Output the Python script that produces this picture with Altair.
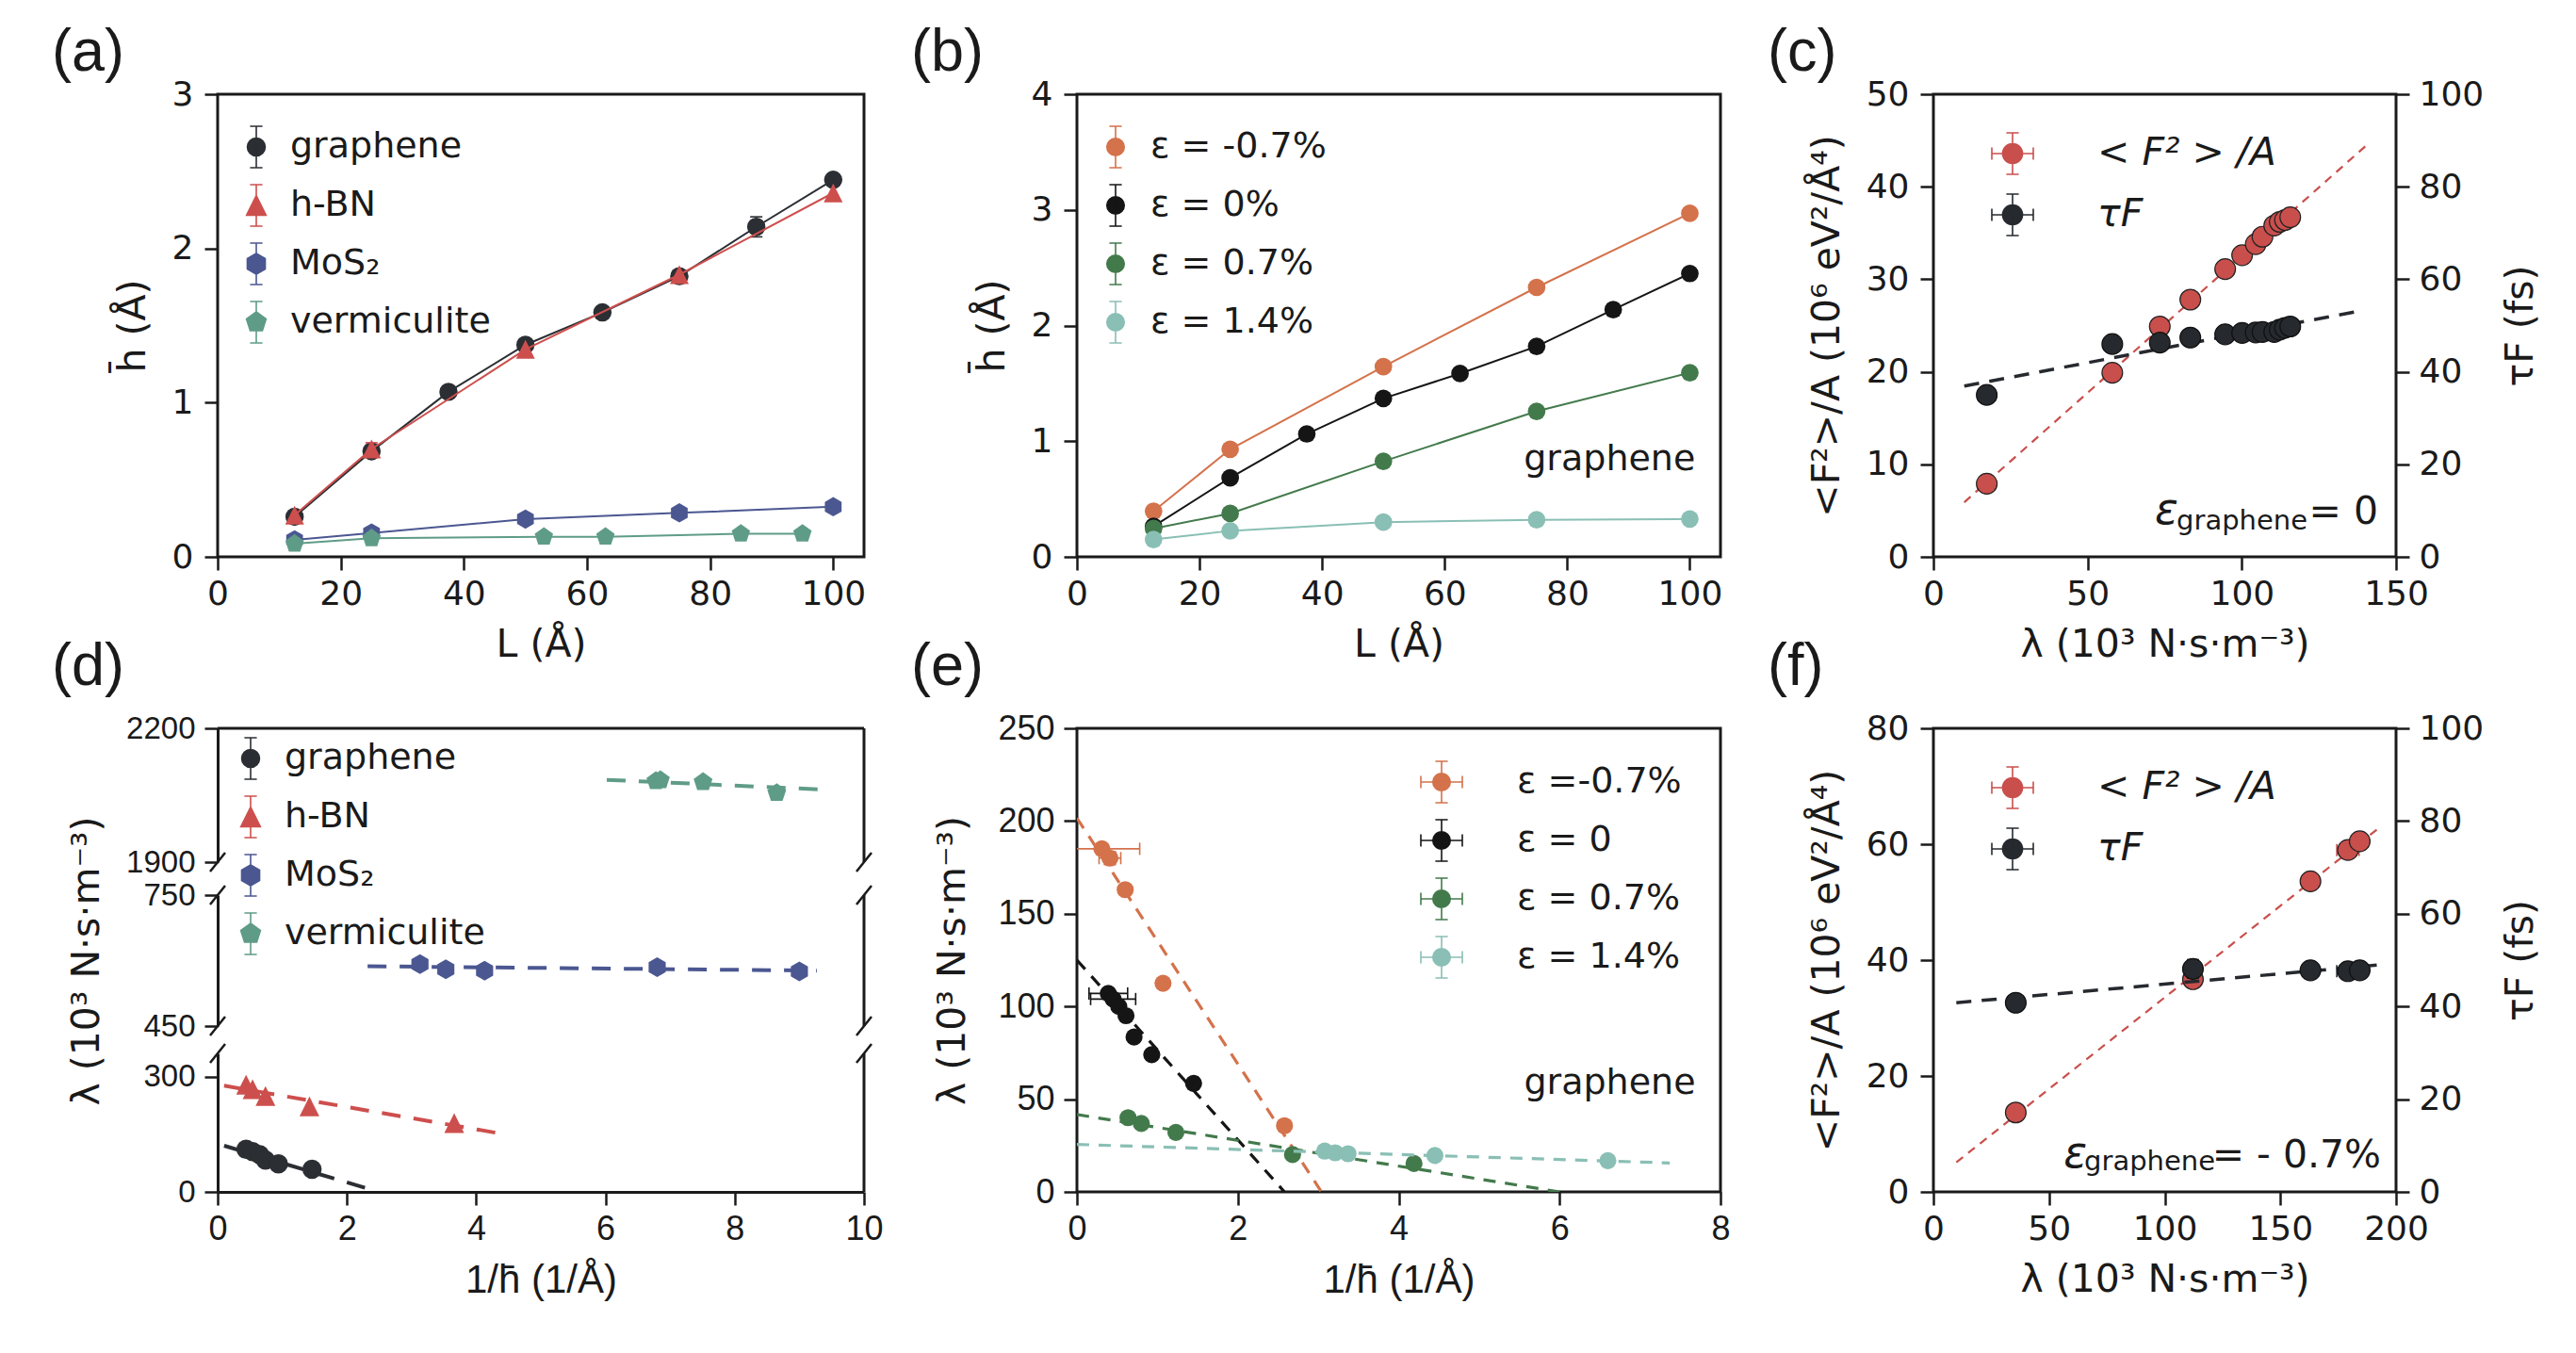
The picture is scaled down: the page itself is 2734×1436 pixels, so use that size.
import altair as alt
import pandas as pd

FONT = "DejaVu Sans"
ARIAL = "Liberation Sans"
INK = "#1a1a1a"

# ---------------- tick values ----------------
A_XT = [0, 20, 40, 60, 80, 100]
A_YT = [0, 1, 2, 3]
B_YT = [0, 1, 2, 3, 4]
C_XT = [0, 50, 100, 150]
C_YT = [0, 10, 20, 30, 40, 50]
C_YT_R = [0, 20, 40, 60, 80, 100]
D_XT = [0, 2, 4, 6, 8, 10]
D_YT_TOP = [1900, 2200]
D_YT_MID = [450, 750]
D_YT_BOT = [0, 300]
E_XT = [0, 2, 4, 6, 8]
E_YT = [0, 50, 100, 150, 200, 250]
F_XT = [0, 50, 100, 150, 200]
F_YT = [0, 20, 40, 60, 80]
F_YT_R = [0, 20, 40, 60, 80, 100]

# ---------------- (a) h vs L for materials ----------------
A_NAMES = ["graphene", "h-BN", "MoS₂", "vermiculite"]
A_COLORS = ["#2b2e33", "#cd4f4d", "#4b5791", "#5f9c88"]
A_L_GR = [12.5, 25, 37.5, 50, 62.5, 75, 87.5, 100]
A_H_GR = [0.26, 0.685, 1.07, 1.375, 1.585, 1.82, 2.14, 2.445]
A_E_GR = [0.0, 0.0, 0.0, 0.0, 0.0, 0.0, 0.065, 0.035]
A_L_BN = [12.5, 25, 50, 75, 100]
A_H_BN = [0.27, 0.70, 1.345, 1.83, 2.36]
A_E_BN = [0.0, 0.04, 0.0, 0.0, 0.0]
A_L_MO = [12.5, 25, 50, 75, 100]
A_H_MO = [0.11, 0.155, 0.245, 0.285, 0.325]
A_L_VE = [12.5, 25, 53, 63, 85, 95]
A_H_VE = [0.085, 0.12, 0.13, 0.13, 0.15, 0.15]

# ---------------- (b) h vs L for graphene strains ----------------
B_NAMES = ["ε = -0.7%", "ε = 0%", "ε = 0.7%", "ε = 1.4%"]
B_COLORS = ["#d4724b", "#151515", "#437a4c", "#8abfb5"]
B_L_M07 = [12.5, 25, 50, 75, 100]
B_H_M07 = [0.395, 0.93, 1.645, 2.33, 2.97]
B_L_0 = [12.5, 25, 37.5, 50, 62.5, 75, 87.5, 100]
B_H_0 = [0.263, 0.684, 1.063, 1.37, 1.585, 1.82, 2.137, 2.45]
B_E_0 = [0.0, 0.0, 0.0, 0.0, 0.0, 0.0, 0.05, 0.0]
B_L_07 = [12.5, 25, 50, 75, 100]
B_H_07 = [0.245, 0.375, 0.826, 1.258, 1.592]
B_L_14 = [12.5, 25, 50, 75, 100]
B_H_14 = [0.15, 0.225, 0.30, 0.32, 0.327]

# ---------------- (c) force / tau vs lambda (eps = 0) ----------------
C_NAMES = ["< F² > /A", "τF"]
C_COLORS = ["#c94f4c", "#262a2f"]
C_LAM = [17.3, 58.0, 73.4, 83.3, 94.6, 100.1, 104.5, 106.7, 110.5, 112.3, 114.0, 115.7]
C_F = [7.9, 19.9, 24.9, 27.8, 31.1, 32.6, 33.8, 34.6, 35.8, 36.2, 36.4, 36.7]
C_TAU = [35.0, 46.0, 46.3, 47.4, 48.1, 48.4, 48.5, 48.6, 48.6, 49.1, 49.5, 49.8]
C_FITF_LAM = [10.0, 140.8]
C_FITF = [5.9, 44.6]
C_FITT_LAM = [10.0, 137.4]
C_FITT = [36.9, 53.05]

# ---------------- (d) lambda vs 1/h (broken axis) ----------------
D_X_GR = [0.44, 0.54, 0.65, 0.74, 0.94, 1.46]
D_Y_GR = [110.6, 104.7, 96.5, 82.4, 73.0, 58.8]
D_FIT_X_GR = [0.1, 2.45]
D_FIT_Y_GR = [120.0, 2.0]
D_X_BN = [0.44, 0.54, 0.74, 1.42, 3.66]
D_Y_BN = [278.8, 267.0, 249.0, 222.0, 179.0]
D_FIT_X_BN = [0.1, 4.33]
D_FIT_Y_BN = [276.0, 153.0]
D_X_MO = [3.13, 3.53, 4.13, 6.80, 9.0]
D_Y_MO = [592.0, 580.0, 577.0, 585.0, 575.0]
D_FIT_X_MO = [2.32, 9.27]
D_FIT_Y_MO = [587.0, 577.0]
D_X_VE = [6.78, 6.85, 7.51, 8.65]
D_Y_VE = [2081.6, 2084.0, 2079.6, 2055.0]
D_FIT_X_VE = [6.02, 9.36]
D_FIT_Y_VE = [2084.5, 2062.8]

# ---------------- (e) lambda vs 1/h for strains ----------------
E_NAMES = ["ε =-0.7%", "ε = 0", "ε = 0.7%", "ε = 1.4%"]
E_X_M07 = [0.31, 0.41, 0.60, 1.07, 2.58]
E_Y_M07 = [185.0, 180.0, 163.0, 112.5, 35.7]
E_XE_M07 = [0.47, 0.135, 0.0, 0.0, 0.0]
E_YE_M07 = [0.0, 3.5, 0.0, 0.0, 0.0]
E_FIT_X_M07 = [0.0, 3.04]
E_FIT_Y_M07 = [201.6, 0.0]
E_X_0 = [0.39, 0.45, 0.52, 0.61, 0.71, 0.93, 1.45]
E_Y_0 = [107.0, 104.0, 100.0, 95.0, 83.5, 74.0, 58.5]
E_XE_0 = [0.24, 0.28, 0.0, 0.0, 0.0, 0.0, 0.0]
E_FIT_X_0 = [0.0, 2.58]
E_FIT_Y_0 = [125.0, 0.0]
E_X_07 = [0.635, 0.80, 1.23, 2.68, 4.19]
E_Y_07 = [40.0, 36.9, 32.1, 20.1, 15.3]
E_FIT_X_07 = [0.0, 6.0]
E_FIT_Y_07 = [41.7, 0.0]
E_X_14 = [3.08, 3.21, 3.37, 4.45, 6.60]
E_Y_14 = [22.0, 21.1, 20.6, 19.6, 16.8]
E_FIT_X_14 = [0.0, 7.37]
E_FIT_Y_14 = [25.6, 15.6]

# ---------------- (f) force / tau vs lambda (eps = -0.7%) ----------------
F_LAM = [35.6, 112.2, 163.0, 179.2, 184.3]
F_F = [13.7, 36.7, 53.6, 59.0, 60.5]
F_LAM_ERR = [0.0, 0.0, 0.0, 4.8, 0.0]
F_TAU = [40.8, 48.1, 47.8, 47.6, 47.8]
F_TAU_ERR = [0.0, 2.0, 0.0, 0.0, 0.0]
F_FITF_LAM = [9.9, 193.5]
F_FITF = [5.1, 63.1]
F_FITT_LAM = [9.9, 193.5]
F_FITT = [40.8, 49.0]

# ---------------- layout constants ----------------
W1, W2, W3 = 686, 683, 491
H1, H2 = 491, 492
D_SEGS = [(0, 142), (177, 316), (345, 492)]   # pixel extent of broken-axis segments
TICK_FS = 36
TITLE_FS = 41
LEG_FS = 38

ONE = pd.DataFrame({"k": [0]})


# ---------------- marker shapes ----------------
def poly(pts, s):
    return "M" + "L".join(f"{x * s:.3f},{y * s:.3f}" for x, y in pts) + "Z"


def circ(r):
    return f"M{r},0A{r},{r},0,1,1,{-r},0A{r},{r},0,1,1,{r},0Z"


TRI_PTS = [(0, -1), (1, 1), (-1, 1)]
HEX_PTS = [(0, -1), (0.866, -0.5), (0.866, 0.5), (0, 1), (-0.866, 0.5), (-0.866, -0.5)]
PENT_PTS = [(0, -1), (0.951, -0.309), (0.588, 0.809), (-0.588, 0.809), (-0.951, -0.309)]
TRI = poly(TRI_PTS, 1)
HEX = poly(HEX_PTS, 1)
PENT = poly(PENT_PTS, 1)
HCAP = "M-1,0L1,0"
VCAP = "M0,-1L0,1"
VBAR = "M0,-1L0,1M-0.3,-1L0.3,-1M-0.3,1L0.3,1"
XBAR = VBAR + "M-1,0L1,0M-1,-0.3L-1,0.3M1,-0.3L1,0.3"

A_GLYPHS = [circ(0.43) + VBAR, poly(TRI_PTS, 0.47) + VBAR, poly(HEX_PTS, 0.5) + VBAR, poly(PENT_PTS, 0.5) + VBAR]
B_GLYPHS = [circ(0.42) + VBAR] * 4
X_GLYPHS4 = [circ(0.42) + XBAR] * 4
C_GLYPHS = [circ(0.48) + XBAR] * 2


# ---------------- helpers ----------------
def enc(xs, xa, ys, ya):
    def X(f="x"):
        return alt.X(f, type="quantitative", scale=xs, axis=xa)

    def Y(f="y"):
        return alt.Y(f, type="quantitative", scale=ys, axis=ya)

    return X, Y


def fit(X, Y, x, y, color, w, dash):
    df = pd.DataFrame({"x": x, "y": y})
    return alt.Chart(df).mark_line(color=color, strokeWidth=w, strokeDash=dash, clip=True).encode(x=X(), y=Y())


def series(X, Y, x, y, color, shape, size, line_w=0, yerr=None, xerr=None, edge=None, cap=13):
    df = pd.DataFrame({"x": x, "y": y})
    layers = []
    if line_w:
        layers.append(alt.Chart(df).mark_line(color=color, strokeWidth=line_w).encode(x=X(), y=Y()))
    if yerr is not None:
        de = pd.DataFrame({"x": x, "ylo": [a - e for a, e in zip(y, yerr)],
                           "yhi": [a + e for a, e in zip(y, yerr)], "e": yerr})
        de = de[de["e"] > 0].reset_index(drop=True)
        if len(de):
            b = alt.Chart(de)
            layers.append(b.mark_rule(color=color, strokeWidth=1.6, clip=True).encode(
                x=X(), y=Y("ylo"), y2=alt.Y2("yhi")))
            for f in ("ylo", "yhi"):
                layers.append(b.mark_point(shape=HCAP, size=cap * cap, filled=False, color=color,
                                           strokeWidth=1.6, opacity=1, clip=True).encode(x=X(), y=Y(f)))
    if xerr is not None:
        de = pd.DataFrame({"y": y, "xlo": [a - e for a, e in zip(x, xerr)],
                           "xhi": [a + e for a, e in zip(x, xerr)], "e": xerr})
        de = de[de["e"] > 0].reset_index(drop=True)
        if len(de):
            b = alt.Chart(de)
            layers.append(b.mark_rule(color=color, strokeWidth=1.6, clip=True).encode(
                x=X("xlo"), x2=alt.X2("xhi"), y=Y()))
            for f in ("xlo", "xhi"):
                layers.append(b.mark_point(shape=VCAP, size=cap * cap, filled=False, color=color,
                                           strokeWidth=1.6, opacity=1, clip=True).encode(x=X(f), y=Y()))
    kw = dict(filled=True, opacity=1, color=color, shape=shape, size=size)
    if edge:
        kw.update(stroke=edge, strokeWidth=1.2)
    layers.append(alt.Chart(df).mark_point(**kw).encode(x=X(), y=Y()))
    return layers


def legend_layer(names, colors, glyphs, lx, ly, loff, rpad, fsize=LEG_FS, italic=False):
    df = pd.DataFrame({"series": names})
    kw = dict(title=None, orient="none", legendX=lx, legendY=ly, labelFont=FONT, labelFontSize=fsize,
              labelColor=INK, labelOffset=loff, rowPadding=rpad, symbolSize=1936,
              symbolStrokeWidth=1.6, padding=0, labelLimit=900)
    if italic:
        kw["labelFontStyle"] = "italic"
    sc = alt.Scale(domain=names, range=colors)
    sh = alt.Scale(domain=names, range=glyphs)
    return alt.Chart(df).transform_filter("false").mark_point(filled=False, opacity=1, strokeWidth=1.6).encode(
        fill=alt.Fill("series:N", scale=sc, legend=alt.Legend(**kw)),
        stroke=alt.Stroke("series:N", scale=sc, legend=alt.Legend(**kw)),
        shape=alt.Shape("series:N", scale=sh, legend=alt.Legend(**kw)),
    )


def panel_label(txt, dy):
    return alt.Chart(ONE).mark_text(text=txt, font=ARIAL, fontSize=63, align="left", baseline="alphabetic",
                                    color=INK).encode(x=alt.value(-176), y=alt.value(dy))


def note(X, Y, x, y, txt, size, italic=False, font=FONT):
    kw = dict(text=txt, font=font, fontSize=size, align="right", baseline="alphabetic", color=INK)
    if italic:
        kw["fontStyle"] = "italic"
    return alt.Chart(pd.DataFrame({"x": [x], "y": [y]})).mark_text(**kw).encode(x=X(), y=Y())


def rule_px(x1, x2, y1, y2, w=3):
    return alt.Chart(ONE).mark_rule(color=INK, strokeWidth=w).encode(
        x=alt.value(x1), x2=alt.value(x2), y=alt.value(y1), y2=alt.value(y2))


Y_LAB = dict(labelPadding=12, titlePadding=20)

# ---------------- panel (a) ----------------
Xa, Ya = enc(alt.Scale(domain=[0, 105], nice=False, zero=False), alt.Axis(title="L (Å)", values=A_XT),
             alt.Scale(domain=[0, 3], nice=False), alt.Axis(title="h̄ (Å)", values=A_YT, **Y_LAB))
pa = alt.layer(
    *series(Xa, Ya, A_L_GR, A_H_GR, A_COLORS[0], "circle", 380, 2, yerr=A_E_GR),
    *series(Xa, Ya, A_L_BN, A_H_BN, A_COLORS[1], TRI, 400, 2, yerr=A_E_BN),
    *series(Xa, Ya, A_L_MO, A_H_MO, A_COLORS[2], HEX, 420, 2),
    *series(Xa, Ya, A_L_VE, A_H_VE, A_COLORS[3], PENT, 420, 2),
    legend_layer(A_NAMES, A_COLORS, A_GLYPHS, 18, 33, 13, 10),
    panel_label("(a)", -25),
).properties(width=W1, height=H1)

# ---------------- panel (b) ----------------
Xb, Yb = enc(alt.Scale(domain=[0, 105], nice=False, zero=False), alt.Axis(title="L (Å)", values=A_XT),
             alt.Scale(domain=[0, 4], nice=False), alt.Axis(title="h̄ (Å)", values=B_YT, **Y_LAB))
pb = alt.layer(
    *series(Xb, Yb, B_L_M07, B_H_M07, B_COLORS[0], "circle", 350, 2),
    *series(Xb, Yb, B_L_0, B_H_0, B_COLORS[1], "circle", 350, 2, yerr=B_E_0),
    *series(Xb, Yb, B_L_07, B_H_07, B_COLORS[2], "circle", 350, 2),
    *series(Xb, Yb, B_L_14, B_H_14, B_COLORS[3], "circle", 350, 2),
    note(Xb, Yb, 100.9, 0.75, "graphene", LEG_FS),
    legend_layer(B_NAMES, B_COLORS, B_GLYPHS, 18, 33, 14, 10),
    panel_label("(b)", -25),
).properties(width=W2, height=H1)

# ---------------- panel (c) ----------------
LAM_TITLE = "λ (10³ N·s·m⁻³)"
F_TITLE = "<F²>/A (10⁶ eV²/Å⁴)"
TAU_TITLE = "τF (fs)"
xs_c = alt.Scale(domain=[0, 150], nice=False, zero=False)
ax_xc = alt.Axis(title=LAM_TITLE, values=C_XT)
Xc, Ycl = enc(xs_c, ax_xc, alt.Scale(domain=[0, 50], nice=False),
              alt.Axis(title=F_TITLE, values=C_YT, **Y_LAB))
_, Ycr = enc(xs_c, ax_xc, alt.Scale(domain=[0, 100], nice=False),
             alt.Axis(title=TAU_TITLE, values=C_YT_R, orient="right", labelPadding=10, titlePadding=20,
                      titleAngle=270, titleBaseline="top"))
c_left = alt.layer(
    fit(Xc, Ycl, C_FITF_LAM, C_FITF, C_COLORS[0], 2.2, [9, 7]),
    *series(Xc, Ycl, C_LAM, C_F, C_COLORS[0], "circle", 480, edge="#222222"),
    note(Xc, Ycl, 79.4, 3.56, "ε", 46, italic=True),
    note(Xc, Ycl, 121.3, 3.0, "graphene", 29),
    note(Xc, Ycl, 144.2, 3.56, "= 0", 41),
    legend_layer(C_NAMES, C_COLORS, C_GLYPHS, 61, 40, 67, 13, fsize=41, italic=True),
    panel_label("(c)", -25),
)
c_right = alt.layer(
    fit(Xc, Ycr, C_FITT_LAM, C_FITT, C_COLORS[1], 3.5, [16, 11]),
    *series(Xc, Ycr, C_LAM, C_TAU, C_COLORS[1], "circle", 480, edge="#111111"),
)
pc = alt.layer(c_left, c_right).resolve_scale(y="independent").properties(width=W3, height=H1)

# ---------------- panel (d) ----------------
xs_d = alt.Scale(domain=[0, 10], nice=False, zero=False)
ax_xd = alt.Axis(title="1/h̄ (1/Å)", values=D_XT, domain=True, domainWidth=3, domainColor=INK,
                 labelFont=ARIAL, labelFontSize=TICK_FS, titleFont=ARIAL, titleFontSize=42)


def d_axis(vals, title=None, tp=22):
    return alt.Axis(orient="left", values=vals, title=title, titlePadding=tp, domain=True, domainWidth=3,
                    domainColor=INK, labelFont=ARIAL, labelFontSize=33, labelPadding=10, format="d")


Xd, Yd_top = enc(xs_d, ax_xd, alt.Scale(domain=[1900, 2200], range=[D_SEGS[0][1], D_SEGS[0][0]], nice=False, zero=False),
                 d_axis(D_YT_TOP))
_, Yd_mid = enc(xs_d, ax_xd, alt.Scale(domain=[450, 750], range=[D_SEGS[1][1], D_SEGS[1][0]], nice=False, zero=False),
                d_axis(D_YT_MID, LAM_TITLE, 38))
_, Yd_bot = enc(xs_d, ax_xd, alt.Scale(domain=[0, 360], range=[D_SEGS[2][1], D_SEGS[2][0]], nice=False, zero=False),
                d_axis(D_YT_BOT))
d_top = alt.layer(
    fit(Xd, Yd_top, D_FIT_X_VE, D_FIT_Y_VE, A_COLORS[3], 4, [20, 14]),
    *series(Xd, Yd_top, D_X_VE, D_Y_VE, A_COLORS[3], PENT, 440),
)
d_mid = alt.layer(
    fit(Xd, Yd_mid, D_FIT_X_MO, D_FIT_Y_MO, A_COLORS[2], 4, [20, 14]),
    *series(Xd, Yd_mid, D_X_MO, D_Y_MO, A_COLORS[2], HEX, 440),
)
d_bot = alt.layer(
    fit(Xd, Yd_bot, D_FIT_X_GR, D_FIT_Y_GR, A_COLORS[0], 4, [20, 14]),
    *series(Xd, Yd_bot, D_X_GR, D_Y_GR, A_COLORS[0], "circle", 420),
    fit(Xd, Yd_bot, D_FIT_X_BN, D_FIT_Y_BN, A_COLORS[1], 4, [20, 14]),
    *series(Xd, Yd_bot, D_X_BN, D_Y_BN, A_COLORS[1], TRI, 440),
)
d_deco = [rule_px(0, W1, 0, 0)]
for t, b in D_SEGS:
    d_deco.append(rule_px(W1, W1, t, b))
for yy in (D_SEGS[0][1], D_SEGS[1][0], D_SEGS[1][1], D_SEGS[2][0]):
    for xx in (0, W1):
        d_deco.append(rule_px(xx - 8, xx + 8, yy + 10, yy - 10, 2.5))
pd_ = alt.layer(
    d_top, d_mid, d_bot, *d_deco,
    legend_layer(A_NAMES, A_COLORS, A_GLYPHS, 12, 9, 13, 10),
    panel_label("(d)", -46),
).resolve_scale(y="independent").properties(width=W1, height=H2, view=alt.ViewBackground(stroke="transparent"))

# ---------------- panel (e) ----------------
Xe, Ye = enc(alt.Scale(domain=[0, 8], nice=False, zero=False),
             alt.Axis(title="1/h̄ (1/Å)", values=E_XT, labelFont=ARIAL, labelFontSize=TICK_FS, titleFont=ARIAL,
                      titleFontSize=42),
             alt.Scale(domain=[0, 250], nice=False),
             alt.Axis(title=LAM_TITLE, values=E_YT, labelFont=ARIAL, labelFontSize=TICK_FS, labelPadding=10,
                      titlePadding=26))
pe = alt.layer(
    fit(Xe, Ye, E_FIT_X_M07, E_FIT_Y_M07, B_COLORS[0], 3.2, [13, 10]),
    *series(Xe, Ye, E_X_M07, E_Y_M07, B_COLORS[0], "circle", 330, yerr=E_YE_M07, xerr=E_XE_M07),
    fit(Xe, Ye, E_FIT_X_0, E_FIT_Y_0, B_COLORS[1], 3.2, [13, 10]),
    *series(Xe, Ye, E_X_0, E_Y_0, B_COLORS[1], "circle", 330, xerr=E_XE_0),
    fit(Xe, Ye, E_FIT_X_07, E_FIT_Y_07, B_COLORS[2], 3.2, [13, 10]),
    *series(Xe, Ye, E_X_07, E_Y_07, B_COLORS[2], "circle", 330),
    fit(Xe, Ye, E_FIT_X_14, E_FIT_Y_14, B_COLORS[3], 3.2, [13, 10]),
    *series(Xe, Ye, E_X_14, E_Y_14, B_COLORS[3], "circle", 330),
    note(Xe, Ye, 7.69, 53.0, "graphene", LEG_FS),
    legend_layer(E_NAMES, B_COLORS, X_GLYPHS4, 364, 34, 57, 10),
    panel_label("(e)", -46),
).properties(width=W2, height=H2)

# ---------------- panel (f) ----------------
xs_f = alt.Scale(domain=[0, 200], nice=False, zero=False)
ax_xf = alt.Axis(title=LAM_TITLE, values=F_XT)
Xf, Yfl = enc(xs_f, ax_xf, alt.Scale(domain=[0, 80], nice=False),
              alt.Axis(title=F_TITLE, values=F_YT, **Y_LAB))
_, Yfr = enc(xs_f, ax_xf, alt.Scale(domain=[0, 100], nice=False),
             alt.Axis(title=TAU_TITLE, values=F_YT_R, orient="right", labelPadding=10, titlePadding=20,
                      titleAngle=270, titleBaseline="top"))
f_left = alt.layer(
    fit(Xf, Yfl, F_FITF_LAM, F_FITF, C_COLORS[0], 2.2, [9, 7]),
    *series(Xf, Yfl, F_LAM, F_F, C_COLORS[0], "circle", 480, xerr=F_LAM_ERR, edge="#222222"),
    note(Xf, Yfl, 66.4, 4.3, "ε", 46, italic=True),
    note(Xf, Yfl, 121.8, 3.8, "graphene", 29),
    note(Xf, Yfl, 193.5, 4.3, "= - 0.7%", 41),
    legend_layer(C_NAMES, C_COLORS, C_GLYPHS, 61, 40, 67, 13, fsize=41, italic=True),
    panel_label("(f)", -46),
)
f_right = alt.layer(
    fit(Xf, Yfr, F_FITT_LAM, F_FITT, C_COLORS[1], 3.5, [16, 11]),
    *series(Xf, Yfr, F_LAM, F_TAU, C_COLORS[1], "circle", 480, yerr=F_TAU_ERR, xerr=F_LAM_ERR, edge="#111111"),
)
pf = alt.layer(f_left, f_right).resolve_scale(y="independent").properties(width=W3, height=H2)

# ---------------- assemble ----------------
chart = alt.concat(
    pa, pb, pc, pd_, pe, pf, columns=3, spacing={"row": 182, "column": 226}, bounds="flush"
).resolve_scale(
    fill="independent", stroke="independent", shape="independent"
).properties(
    padding={"left": 45, "top": 15, "right": 10, "bottom": 10}
).configure_view(
    stroke=INK, strokeWidth=3
).configure_axis(
    labelFont=FONT, labelFontSize=TICK_FS, labelColor=INK, titleFont=FONT, titleFontSize=TITLE_FS,
    titleFontWeight="normal", titleColor=INK, tickSize=14, tickWidth=2.5, tickColor=INK,
    domain=False, grid=False, labelPadding=8, titlePadding=16, labelFlush=False, labelOverlap=False
)

chart.save("out.html", embed_options={"renderer": "svg", "actions": False})
